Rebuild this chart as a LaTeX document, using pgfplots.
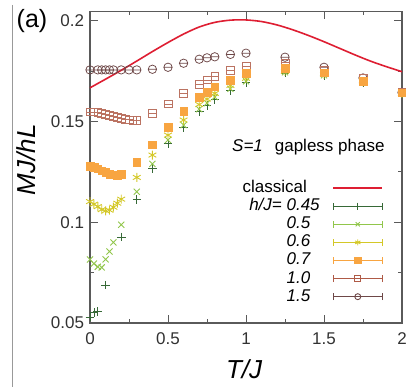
\documentclass[border=0pt]{standalone}
\usepackage{fontspec}
\setmainfont{Liberation Sans}
\usepackage{pgfplots}
\pgfplotsset{compat=1.18}
\definecolor{axisgray}{RGB}{90,90,90}
\definecolor{labgray}{RGB}{50,50,50}
\definecolor{cred}{RGB}{222,30,50}
\definecolor{cA}{RGB}{55,105,55}
\definecolor{cB}{RGB}{145,198,75}
\definecolor{cC}{RGB}{212,200,40}
\definecolor{cD}{RGB}{248,165,65}
\definecolor{cE}{RGB}{175,90,70}
\definecolor{cF}{RGB}{110,72,72}
\pgfdeclareplotmark{sqbar}{%
  \pgfpathrectangle{\pgfqpoint{-\pgfplotmarksize}{-\pgfplotmarksize}}{\pgfqpoint{2\pgfplotmarksize}{2\pgfplotmarksize}}%
  \pgfpathmoveto{\pgfqpoint{-\pgfplotmarksize}{0pt}}%
  \pgfpathlineto{\pgfqpoint{\pgfplotmarksize}{0pt}}%
  \pgfusepathqstroke}
\pgfdeclareplotmark{obar}{%
  \pgfpathcircle{\pgfpointorigin}{\pgfplotmarksize}%
  \pgfpathmoveto{\pgfqpoint{-\pgfplotmarksize}{0pt}}%
  \pgfpathlineto{\pgfqpoint{\pgfplotmarksize}{0pt}}%
  \pgfusepathqstroke}
\pgfplotsset{
  ebleg/.style={legend image code/.code={
    \draw[##1, mark=none] (0pt,0pt) -- (49pt,0pt);
    \draw[##1, mark=none] (0pt,-3.5pt) -- (0pt,3.5pt) (49pt,-3.5pt) -- (49pt,3.5pt);
    \draw[##1] plot coordinates {(24.5pt,0pt)};
  }},
  lineleg/.style={legend image code/.code={
    \draw[##1] (0pt,0pt) -- (49pt,0pt);
  }}
}
\newcommand{\fs}{\fontsize{17}{20}\selectfont}
\begin{document}
\begin{tikzpicture}
\path[use as bounding box] (-90pt,-64pt) rectangle (316pt,323pt);
\draw[color=gray!80, line width=0.8pt] (-78pt,318pt) -- (-78pt,-64pt);
\begin{axis}[
  at={(0pt,0pt)}, anchor=south west,
  scale only axis, width=312pt, height=311.5pt,
  xmin=0, xmax=2, ymin=0.05, ymax=0.2047,
  xtick={0,0.5,1,1.5,2}, xticklabels={0,0.5,1,1.5,2},
  ytick={0.05,0.1,0.15,0.2}, yticklabels={0.05,0.1,0.15,0.2},
  minor xtick={0.25,0.75,1.25,1.75},
  minor ytick={0.075,0.125,0.175},
  tick align=inside,
  major tick length=8pt, minor tick length=4pt,
  tick style={color=axisgray, line width=1pt},
  axis line style={color=axisgray, line width=1.2pt},
  /pgf/number format/assume math mode=true,
  tick label style={font=\fs, text=labgray},
  yticklabel style={xshift=-2.5pt},
  xticklabel style={yshift=-6pt},
  xlabel={\itshape T/J},
  ylabel={\itshape MJ/hL},
  xlabel style={at={(axis description cs:0.494,-0.148)}, anchor=center, font=\fontsize{26}{30}\selectfont, text=black},
  ylabel style={at={(axis description cs:-0.205,0.524)}, anchor=center, font=\fontsize{26}{30}\selectfont, text=black},
  legend style={draw=none, fill=none, font=\fs, at={(axis description cs:0.94,0.462)}, anchor=north east,
     row sep=0.5pt, column sep=12pt, inner sep=0pt,
     nodes={text height=12.5pt, text depth=3.5pt, inner sep=0.8pt}},
  legend plot pos=right,
  legend cell align=left,
  clip=false,
]
% classical
\addplot[color=cred, line width=1.6pt, smooth, forget plot] coordinates {
(0,0.1668) (0.1,0.1711) (0.2,0.1755) (0.3,0.1801) (0.4,0.1848) (0.5,0.1893)
(0.6,0.1935) (0.7,0.1970) (0.8,0.1993) (0.9,0.2004) (1.0,0.2005) (1.1,0.1997)
(1.2,0.1980) (1.3,0.1956) (1.4,0.1928) (1.5,0.1897) (1.6,0.1864) (1.7,0.1831)
(1.8,0.1800) (1.9,0.1773) (2.0,0.1748)};
% h=1.5
\addplot[only marks, color=cF, mark=obar, mark size=4.2pt, line width=0.75pt, forget plot] coordinates {
(0,0.1757) (0.05,0.1757) (0.075,0.1757) (0.1,0.1757) (0.125,0.1757) (0.15,0.1757)
(0.2,0.1757) (0.25,0.1757) (0.3,0.1757) (0.4,0.1760) (0.5,0.1770) (0.6,0.1790)
(0.7,0.1810) (0.75,0.1817) (0.8,0.1822) (0.9,0.1834) (1.0,0.1840) (1.25,0.1820)
(1.5,0.1770) (1.75,0.1717) (2.0,0.1645)};
% h=1.0
\addplot[only marks, color=cE!85, mark=sqbar, mark size=3.9pt, line width=0.75pt, forget plot] coordinates {
(0,0.1548) (0.025,0.1548) (0.05,0.1546) (0.075,0.1543) (0.1,0.1538) (0.125,0.1532)
(0.15,0.1526) (0.175,0.1520) (0.2,0.1515) (0.225,0.1511) (0.25,0.1509) (0.275,0.1508)
(0.3,0.1508) (0.4,0.1541) (0.5,0.1588) (0.6,0.1640) (0.7,0.1685) (0.75,0.1707)
(0.8,0.1726) (0.9,0.1753) (1.0,0.1776) (1.25,0.1792) (1.5,0.1756) (1.75,0.1717) (2.0,0.1645)};
% h=0.45
\addplot[only marks, color=cA, mark=+, mark size=4.3pt, line width=0.8pt, forget plot] coordinates {
(0,0.0530) (0.025,0.0553) (0.05,0.0558) (0.1,0.0688) (0.2,0.0927) (0.3,0.1112)
(0.4,0.1268) (0.5,0.1390) (0.6,0.1470) (0.7,0.1550) (0.75,0.1580) (0.8,0.1610)
(0.9,0.1655) (1.0,0.1693) (1.25,0.1742) (1.5,0.1728) (1.75,0.1693) (2.0,0.1640)};
% h=0.5
\addplot[only marks, color=cB, mark=x, mark size=4.3pt, line width=0.9pt, forget plot] coordinates {
(0,0.0815) (0.025,0.0795) (0.05,0.0779) (0.075,0.0776) (0.1,0.0816) (0.125,0.0855)
(0.15,0.0900) (0.2,0.0988) (0.3,0.1152) (0.4,0.1290) (0.5,0.1409) (0.6,0.1483)
(0.7,0.1562) (0.75,0.1592) (0.8,0.1622) (0.9,0.1663) (1.0,0.1700) (1.25,0.1745)
(1.5,0.1730) (1.75,0.1695) (2.0,0.1640)};
% h=0.6
\addplot[only marks, color=cC, mark=asterisk, mark size=4.5pt, line width=0.9pt, forget plot] coordinates {
(0,0.1103) (0.025,0.1090) (0.05,0.1078) (0.075,0.1063) (0.1,0.1057) (0.125,0.1060)
(0.15,0.1075) (0.175,0.1095) (0.2,0.1115) (0.3,0.1223) (0.4,0.1334) (0.5,0.1433)
(0.6,0.1508) (0.7,0.1585) (0.75,0.1612) (0.8,0.1640) (0.9,0.1680) (1.0,0.1715)
(1.25,0.1750) (1.5,0.1735) (1.75,0.1698) (2.0,0.1640)};
% h=0.7
\addplot[only marks, color=cD, mark=square*, mark size=3.8pt, forget plot] coordinates {
(0,0.1278) (0.025,0.1274) (0.05,0.1266) (0.075,0.1256) (0.1,0.1248) (0.125,0.1240)
(0.15,0.1236) (0.175,0.1234) (0.2,0.1238) (0.3,0.1299) (0.4,0.1385) (0.5,0.1471)
(0.6,0.1553) (0.7,0.1620) (0.75,0.1645) (0.8,0.1673) (0.9,0.1707) (1.0,0.1740)
(1.25,0.1765) (1.5,0.1743) (1.75,0.1702) (2.0,0.1643)};
% legend
\addlegendimage{lineleg, color=cred, line width=1.6pt}
\addlegendentry{\hspace*{-44pt}classical}
\addlegendimage{ebleg, color=cA, mark=|, mark size=3.5pt, line width=0.9pt}
\addlegendentry{\llap{\itshape h/J=\ }\itshape 0.45}
\addlegendimage{ebleg, color=cB, mark=x, mark size=3pt, line width=0.9pt}
\addlegendentry{\itshape 0.5}
\addlegendimage{ebleg, color=cC, mark=asterisk, mark size=3pt, line width=0.9pt}
\addlegendentry{\itshape 0.6}
\addlegendimage{ebleg, color=cD, mark=square*, mark size=3.2pt, line width=1.2pt}
\addlegendentry{\itshape 0.7}
\addlegendimage{ebleg, color=cE, mark=square, mark size=3pt, line width=1.2pt}
\addlegendentry{\itshape 1.0}
\addlegendimage{ebleg, color=cF, mark=o, mark size=3pt, line width=0.9pt}
\addlegendentry{\itshape 1.5}
\node[anchor=west, font=\fs, inner sep=0pt] at (axis cs:0.91,0.1374) {\itshape S=1\upshape\hspace{12pt}gapless phase};
\node[font=\fontsize{25}{28}\selectfont, inner sep=0pt] at (axis description cs:-0.186,0.968) {(a)};
\end{axis}
\end{tikzpicture}
\end{document}
